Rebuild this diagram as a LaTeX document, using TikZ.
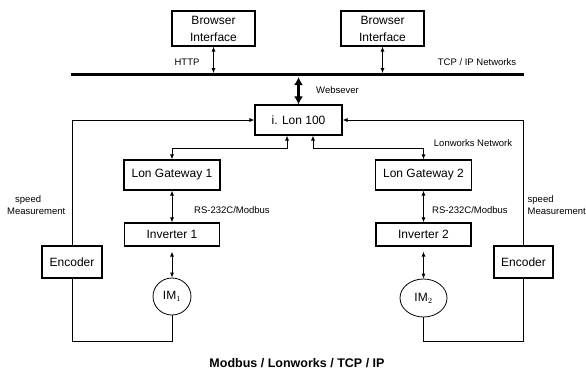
\documentclass[tikz,border=0pt]{standalone}
\usepackage{fontspec}
\setmainfont{Liberation Sans}
\usetikzlibrary{arrows.meta}
\usetikzlibrary{shapes.geometric}
\newcommand*{\boxfont}{\fontsize{12}{17}\selectfont}
\newcommand*{\lblfont}{\fontsize{9.5}{12}\selectfont}
\newcommand*{\gwl}{172}
\newcommand*{\gwr}{423.5}

\begin{document}
\begin{tikzpicture}[x=1pt, y=-1pt, >={Latex[length=5pt,width=4pt]},
        box/.style={draw, line width=1.1pt, inner sep=0pt, font=\boxfont, align=center},
        lbl/.style={font=\lblfont, inner sep=0pt},
        wire/.style={line width=0.8pt}]
    \useasboundingbox (0,0) rectangle (586,373);
        \node [box, minimum width=83, minimum height=35] (browserA) at (213.5,28.5) {Browser\\Interface};
        \node [box, minimum width=83, minimum height=35] (browserB) at (382.5,28.5) {Browser\\Interface};
        \coordinate (busW) at (71,74.7);
        \coordinate (busE) at (524,74.7);
        \draw [line width=3.5pt] (busW) -- (busE);
        \draw [<->, wire, shorten >=1.5pt] (browserA.south) -- (browserA.south |- busW);
        \draw [<->, wire, shorten >=1.5pt] (browserB.south) -- (browserB.south |- busW);
        \node [lbl] (http) at (187,62) {HTTP};
        \node [lbl] (tcpip) at (477,62) {TCP / IP Networks};
        % web server
        \node [box, minimum width=87, minimum height=30] (ilon) at (298.5,120) {i. Lon 100};
        \coordinate (web) at (298.5,77);
        \draw [<->, line width=3pt, >={Latex[length=8pt,width=9pt]}] (web) -- (ilon.north);
        \node [lbl, anchor=west] (websever) at (316,90) {Websever};
        % lonworks
        \node [box, minimum width=96, minimum height=30] (gw1) at (\gwl,175) {Lon Gateway 1};
        \node [box, minimum width=96, minimum height=30] (gw2) at (\gwr,175) {Lon Gateway 2};
        \coordinate (tapA) at (287,148);
        \coordinate (tapB) at (313,148);
        \draw [<->, wire] (gw1.north) |- (tapA) -- (tapA |- ilon.south);
        \draw [<->, wire] (gw2.north) |- (tapB) -- (tapB |- ilon.south);
        \node [lbl] (lonnet) at (473,143) {Lonworks Network};
        % drives
        \node [box, minimum width=95, minimum height=23] (inv1) at (\gwl,234.5) {Inverter 1};
        \node [box, minimum width=95, minimum height=23] (inv2) at (\gwr,234.5) {Inverter 2};
        \draw [<->, wire] (gw1.south) -- (inv1.north);
        \draw [<->, wire] (gw2.south) -- (inv2.north);
        \node [lbl, anchor=west] (rsA) at (194,210) {RS-232C/Modbus};
        \node [lbl, anchor=west] (rsB) at (432,210) {RS-232C/Modbus};
        \node [draw, ellipse, wire, inner sep=0pt, minimum width=38, minimum height=37, font=\boxfont] (im1) at (\gwl,296.5) {$\mathrm{IM}_1$};
        \node [draw, ellipse, wire, inner sep=0pt, minimum width=47, minimum height=38, font=\boxfont] (im2) at (\gwr,298) {$\mathrm{IM}_2$};
        \draw [<->, wire, shorten <=5pt] (inv1.south) -- (im1.north);
        \draw [<->, wire, shorten <=5pt] (inv2.south) -- (im2.north);
        % speed feedback
        \node [box, minimum width=60, minimum height=32] (enc1) at (72,262) {Encoder};
        \node [box, minimum width=59, minimum height=32] (enc2) at (523.5,262) {Encoder};
        \draw [->, wire] (enc1.north) |- (ilon.west);
        \draw [->, wire] (enc2.north) |- (ilon.east);
        \coordinate (floor) at (0,341);
        \draw [wire] (enc1.south) |- (floor -| im1.south) -- (im1.south);
        \draw [wire] (enc2.south) |- (floor -| im2.south) -- (im2.south);
        \node [lbl, anchor=west, align=left] (speedA) at (7,205) {\hspace*{8pt}speed\\Measurement};
        \node [lbl, anchor=west, align=left] (speedB) at (527.5,205) {speed\\Measurement};
        \node [font=\fontsize{12.5}{14}\selectfont\bfseries, inner sep=0pt] (caption) at (297,363) {Modbus / Lonworks / TCP / IP};
    \end{tikzpicture}
\end{document}
